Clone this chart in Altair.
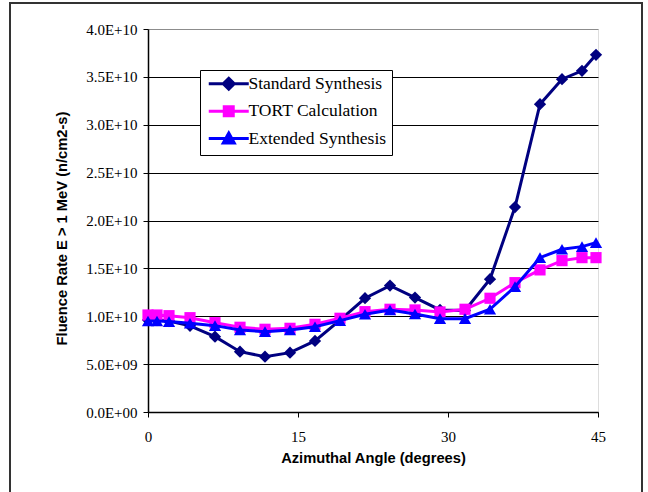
import altair as alt
import pandas as pd

angles = [0, 0.9, 2.1, 4.2, 6.7, 9.2, 11.7, 14.2, 16.7, 19.2, 21.7, 24.2, 26.7,
          29.2, 31.7, 34.2, 36.7, 39.2, 41.4, 43.4, 44.8]
standard = [9.6e9, 9.6e9, 9.5e9, 9.0e9, 7.87e9, 6.3e9, 5.78e9, 6.2e9, 7.42e9, 9.6e9,
            1.188e10, 1.32e10, 1.195e10, 1.066e10, 1.06e10, 1.387e10, 2.14e10,
            3.215e10, 3.476e10, 3.563e10, 3.73e10]
tort = [1.013e10, 1.013e10, 1.006e10, 0.985e10, 0.933e10, 0.885e10, 0.864e10,
        0.874e10, 0.916e10, 0.979e10, 1.048e10, 1.073e10, 1.066e10, 1.045e10,
        1.073e10, 1.188e10, 1.351e10, 1.484e10, 1.581e10, 1.612e10, 1.612e10]
extended = [0.951e10, 0.951e10, 0.944e10, 0.927e10, 0.902e10, 0.857e10, 0.839e10,
            0.857e10, 0.891e10, 0.954e10, 1.021e10, 1.066e10, 1.024e10, 0.975e10,
            0.975e10, 1.073e10, 1.309e10, 1.612e10, 1.70e10, 1.727e10, 1.769e10]

series_names = ["Standard Synthesis", "TORT Calculation", "Extended Synthesis"]
series_colors = ["#000080", "#FF00FF", "#0000FF"]
series_shapes = ["diamond", "square", "triangle-up"]
series_sizes = [150, 125, 150]
legend_paths = [
    "M-4,0H4M0,-1.1L1.1,0L0,1.1L-1.1,0Z",
    "M-4,0H4M-0.9,-0.9H0.9V0.9H-0.9Z",
    "M-4,0H4M0,-1.1L1.1,0.9H-1.1Z",
]
x_ticks = [0, 15, 30, 45]
y_ticks = [0, 5e9, 1e10, 1.5e10, 2e10, 2.5e10, 3e10, 3.5e10, 4e10]

rows = []
for name, vals in zip(series_names, [standard, tort, extended]):
    for a, v in zip(angles, vals):
        rows.append({"angle": a, "value": v, "series": name})
df = pd.DataFrame(rows)

W, H = 450, 383

x_enc = alt.X(
    "angle:Q",
    scale=alt.Scale(domain=[0, 45], nice=False, zero=False),
    axis=alt.Axis(
        values=x_ticks, grid=False, title="Azimuthal Angle (degrees)",
        labelFont="Liberation Serif", labelFontSize=15, labelColor="#000",
        labelBaseline="alphabetic", labelPadding=24, labelFlush=False,
        tickSize=5, tickColor="#000", domainColor="#000", domainWidth=1.5,
        titleFont="Liberation Sans", titleFontSize=14.7, titleFontWeight="bold",
        titleColor="#000", titleY=46, titleBaseline="middle",
    ),
)
y_enc = alt.Y(
    "value:Q",
    scale=alt.Scale(domain=[0, 4e10], nice=False),
    axis=alt.Axis(
        values=y_ticks, grid=True,
        gridColor={"condition": {"test": "datum.value >= 4e10", "value": "#8c8c8c"},
                   "value": "#000000"},
        gridWidth=1,
        labelExpr="datum.value == 0 ? '0.0E+00' : (datum.value < 1e10 ? "
                  "format(datum.value/1e9, '.1f') + 'E+09' : "
                  "format(datum.value/1e10, '.1f') + 'E+10')",
        labelFont="Liberation Serif", labelFontSize=15, labelColor="#000",
        labelPadding=6, labelFlush=False,
        tickSize=5, tickColor="#000", domainColor="#000", domainWidth=1.5,
        title="Fluence Rate E > 1 MeV (n/cm2-s)",
        titleFont="Liberation Sans", titleFontSize=14.7, titleFontWeight="bold",
        titleColor="#000", titleX=-86, titleY=199, titleBaseline="middle",
        titleAlign="center",
    ),
)

frame = alt.Chart(pd.DataFrame({"a": [0]})).mark_rect(
    fillOpacity=0, stroke="#333333", strokeWidth=2
).encode(
    x=alt.value(-138), x2=alt.value(494), y=alt.value(-26), y2=alt.value(480)
)

layers = [frame]
for name, color, shape, size in zip(series_names, series_colors, series_shapes, series_sizes):
    base = alt.Chart(df).transform_filter(alt.datum.series == name)
    layers.append(base.mark_line(color=color, strokeWidth=3).encode(x=x_enc, y=y_enc))
    layers.append(base.mark_point(filled=True, color=color, shape=shape, size=size,
                                  opacity=1).encode(x=x_enc, y=y_enc))

legend_kw = dict(
    title=None, orient="none", legendX=52, legendY=41,
    strokeColor="#000", fillColor="#fff", padding=5,
    symbolSize=100, symbolStrokeWidth=3, symbolOpacity=1, symbolOffset=15,
    labelOffset=11, labelFont="Liberation Serif", labelFontSize=17.5,
    labelColor="#000", rowPadding=4.4, labelLimit=300,
)

legend_layer = alt.Chart(df).transform_filter("false").mark_point(
    filled=True, opacity=1, strokeWidth=3
).encode(
    x=alt.X("angle:Q"),
    y=alt.Y("value:Q"),
    fill=alt.Fill("series:N", scale=alt.Scale(domain=series_names, range=series_colors),
                  legend=alt.Legend(**legend_kw)),
    stroke=alt.Stroke("series:N", scale=alt.Scale(domain=series_names, range=series_colors),
                      legend=alt.Legend(**legend_kw)),
    shape=alt.Shape("series:N", scale=alt.Scale(domain=series_names, range=legend_paths),
                    legend=alt.Legend(**legend_kw)),
)
layers.append(legend_layer)

chart = alt.layer(*layers).properties(
    width=W, height=H,
    autosize=alt.AutoSizeParams(type="none"),
    padding={"left": 148, "top": 29, "right": 50, "bottom": 80},
).configure_view(
    stroke="#8c8c8c", strokeWidth=1
).configure(background="white")

chart.save("out.html", embed_options={"renderer": "svg", "actions": False})
